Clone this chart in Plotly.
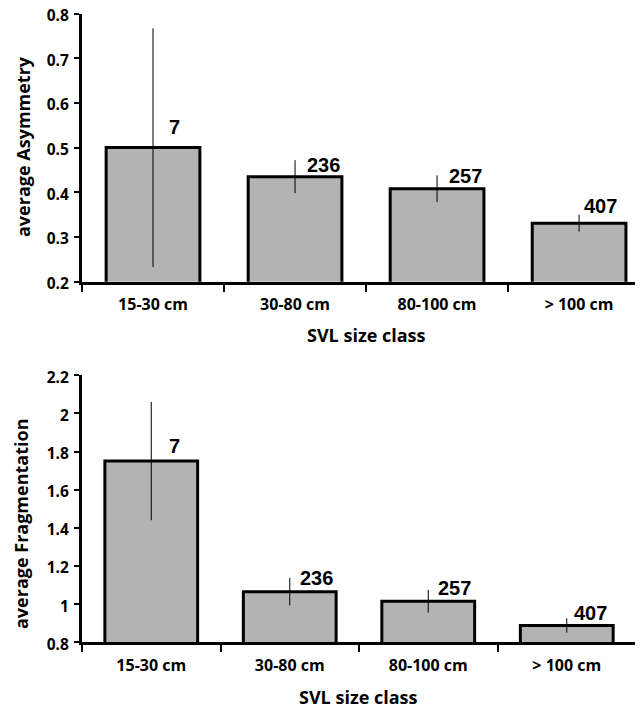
import plotly.graph_objects as go

# ---- data ----
categories = ["15-30 cm", "30-80 cm", "80-100 cm", "> 100 cm"]
asym_mean = [0.50, 0.435, 0.408, 0.331]
asym_err = [0.267, 0.037, 0.030, 0.019]
frag_mean = [1.75, 1.065, 1.015, 0.888]
frag_err = [0.31, 0.072, 0.060, 0.038]
counts = [7, 236, 257, 407]
asym_ticks = [0.2, 0.3, 0.4, 0.5, 0.6, 0.7, 0.8]
frag_ticks = [0.8, 1.0, 1.2, 1.4, 1.6, 1.8, 2.0, 2.2]
frag_ticktext = ["0.8", "1", "1.2", "1.4", "1.6", "1.8", "2", "2.2"]
x_title = "SVL size class"
y_titles = ["average Asymmetry", "average Fragmentation"]

# ---- styling / placement ----
PAGE_W, PAGE_H = 643, 708
OFF = 8  # default page body margin
W, H = PAGE_W - OFF, PAGE_H - OFF
top_dx = [15, 11, 11, 4]
top_dy = [13, 4, 5, 9]
bot_dx = [17, 9, 9, 6]
bot_dy = [7, 6, 5, 5]

FAM = "Open Sans, Arial, sans-serif"
NUM_FONT = dict(family="Liberation Sans, Arial, sans-serif", size=20, color="black", weight="bold")
BAR_FILL = "#b3b3b3"


def px_x(p):
    return (p - OFF) / W


def px_y(p):
    return 1 - (p - OFF) / H


fig = go.Figure()

fig.add_trace(go.Bar(
    x=categories, y=asym_mean, xaxis="x", yaxis="y",
    width=0.66, marker=dict(color=BAR_FILL, line=dict(color="black", width=3)),
    error_y=dict(type="data", array=asym_err, visible=True, color="black",
                 thickness=1, width=0),
    showlegend=False, hoverinfo="skip",
))
fig.add_trace(go.Bar(
    x=categories, y=frag_mean, xaxis="x2", yaxis="y2",
    width=0.67, marker=dict(color=BAR_FILL, line=dict(color="black", width=3)),
    error_y=dict(type="data", array=frag_err, visible=True, color="black",
                 thickness=1, width=0),
    showlegend=False, hoverinfo="skip",
))

annotations = []
for c, v, n, dx, dy in zip(categories, asym_mean, counts, top_dx, top_dy):
    annotations.append(dict(x=c, y=v, xref="x", yref="y", text=str(n),
                            showarrow=False, xanchor="left", yanchor="bottom",
                            xshift=dx - 1, yshift=dy - 5, font=NUM_FONT))
for c, v, n, dx, dy in zip(categories, frag_mean, counts, bot_dx, bot_dy):
    annotations.append(dict(x=c, y=v, xref="x2", yref="y2", text=str(n),
                            showarrow=False, xanchor="left", yanchor="bottom",
                            xshift=dx - 1, yshift=dy - 5, font=NUM_FONT))

title_font = dict(family=FAM, size=18, color="black", weight="bold")
annotations += [
    dict(x=px_x(366), y=px_y(335), xref="paper", yref="paper", text=x_title,
         showarrow=False, xanchor="center", yanchor="middle", font=title_font),
    dict(x=px_x(359), y=px_y(697), xref="paper", yref="paper", text=x_title,
         showarrow=False, xanchor="center", yanchor="middle", font=title_font),
    dict(x=px_x(23), y=px_y(147), xref="paper", yref="paper", text=y_titles[0],
         showarrow=False, xanchor="center", yanchor="middle", textangle=-90, font=title_font),
    dict(x=px_x(21), y=px_y(524), xref="paper", yref="paper", text=y_titles[1],
         showarrow=False, xanchor="center", yanchor="middle", textangle=-90, font=title_font),
]

xaxis_common = dict(
    type="category", showline=True, linecolor="black", linewidth=3,
    ticks="outside", tickson="boundaries", ticklen=7, tickwidth=2, tickcolor="black",
    showgrid=False, zeroline=False, automargin=False,
    tickfont=dict(family=FAM, size=16, color="black", weight="bold"),
    ticklabelstandoff=6, fixedrange=True,
)
yaxis_common = dict(
    showline=True, linecolor="black", linewidth=3,
    ticks="outside", ticklen=5, tickwidth=2, tickcolor="black",
    showgrid=False, zeroline=False, automargin=False,
    tickfont=dict(family=FAM, size=15.5, color="black", weight="bold"),
    ticklabelstandoff=2, ticklabelshift=2, ticklabeloverflow="allow", fixedrange=True,
)

fig.update_layout(
    width=W, height=H,
    margin=dict(l=0, r=0, t=0, b=0),
    paper_bgcolor="white", plot_bgcolor="white",
    xaxis=dict(xaxis_common, domain=[px_x(82), 1.0], range=[-0.5, 3.45], anchor="y"),
    yaxis=dict(yaxis_common, domain=[px_y(281.7), px_y(13.5)], range=[0.2, 0.8],
               tickvals=asym_ticks, ticktext=["%.1f" % t for t in asym_ticks], anchor="x"),
    xaxis2=dict(xaxis_common, domain=[px_x(82), px_x(636)], range=[-0.5, 3.5], anchor="y2"),
    yaxis2=dict(yaxis_common, domain=[px_y(642.3), px_y(375.2)], range=[0.8, 2.2],
                tickvals=frag_ticks, ticktext=frag_ticktext, anchor="x2"),
    annotations=annotations,
)

fig.write_html("out.html")
